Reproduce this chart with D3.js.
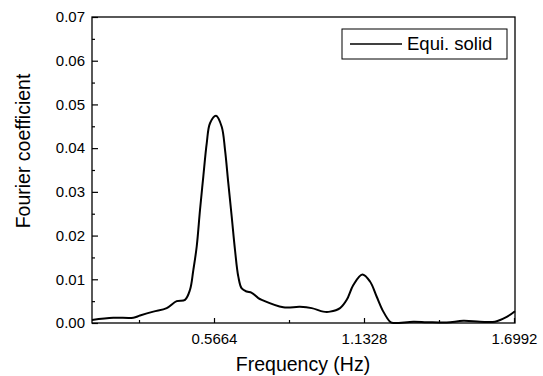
<!DOCTYPE html>
<html><head><meta charset="utf-8">
<script src="https://cdn.jsdelivr.net/npm/d3@7"></script>
<style>body{margin:0;background:#fff}svg{display:block}text{font-family:Arial,"Liberation Sans",sans-serif;fill:#000}</style>
</head><body>
<svg id="c" width="543" height="376"></svg>
<script>
const freq = [0.1057,0.1861,0.2617,0.2870,0.3372,0.3878,0.4256,0.4569,0.4758,0.4883,0.5011,0.5136,0.5260,0.5389,0.5513,0.5740,0.5955,0.6080,0.6204,0.6333,0.6457,0.6582,0.6711,0.6899,0.7088,0.7337,0.7466,0.8281,0.8912,0.9354,0.9792,1.0045,1.0423,1.0676,1.0925,1.1265,1.1555,1.1809,1.2058,1.2311,1.2435,1.3191,1.3697,1.4452,1.5079,1.5710,1.6276,1.6718,1.7030];
const coef = [0.0007,0.0012,0.0012,0.0017,0.0026,0.0034,0.0050,0.0053,0.0076,0.0121,0.0175,0.0259,0.0335,0.0411,0.0457,0.0474,0.0449,0.0396,0.0320,0.0243,0.0167,0.0106,0.0079,0.0072,0.0069,0.0057,0.0053,0.0036,0.0037,0.0034,0.0026,0.0026,0.0034,0.0053,0.0087,0.0111,0.0095,0.0060,0.0026,0.0003,0.0000,0.0003,0.0002,0.0001,0.0005,0.0003,0.0003,0.0014,0.0027];
const xMajor = [0.5664,1.1328,1.6992];
const xMinor = [0.2832,0.8496,1.4160];
const yMajor = [0,0.01,0.02,0.03,0.04,0.05,0.06,0.07];
const yMinor = [0.005,0.015,0.025,0.035,0.045,0.055,0.065];
const seriesName = "Equi. solid";

const svg = d3.select("#c");
const L=92,R=515,T=17,B=323;
const x = d3.scaleLinear().domain([0.1057,1.7030]).range([L,R]);
const y = d3.scaleLinear().domain([0,0.07]).range([B,T]);

// frame
svg.append("rect").attr("x",L).attr("y",T).attr("width",R-L).attr("height",B-T)
  .attr("fill","none").attr("stroke","#000").attr("stroke-width",1.3);

const FONT = "Arial,'Liberation Sans',sans-serif";
// x axis (ticks inward)
const gx = svg.append("g").attr("transform",`translate(0,${B})`);
gx.call(d3.axisBottom(x).tickValues(xMajor).tickSize(-5).tickPadding(10).tickFormat(d3.format(".4f")));
gx.append("g").call(d3.axisBottom(x).tickValues(xMinor).tickSize(-3).tickFormat(""));
gx.selectAll(".domain").remove();
gx.selectAll("text").attr("font-size",15).style("font-family",FONT);
gx.selectAll("line").attr("stroke","#000").attr("stroke-width",1.2);

// y axis (ticks inward)
const gy = svg.append("g").attr("transform",`translate(${L},0)`);
gy.call(d3.axisLeft(y).tickValues(yMajor).tickSize(-6).tickPadding(7).tickFormat(d3.format(".2f")));
gy.append("g").call(d3.axisLeft(y).tickValues(yMinor).tickSize(-3).tickFormat(""));
gy.selectAll(".domain").remove();
gy.selectAll("text").attr("font-size",15).style("font-family",FONT);
gy.selectAll("line").attr("stroke","#000").attr("stroke-width",1.2);

// line
const data = freq.map((f,i)=>({f,v:coef[i]}));
svg.append("path").datum(data)
  .attr("fill","none").attr("stroke","#000").attr("stroke-width",2)
  .attr("d", d3.line().x(d=>x(d.f)).y(d=>y(d.v)).curve(d3.curveCatmullRom.alpha(0.5)));

// axis titles
svg.append("text").attr("x",303).attr("y",371).attr("text-anchor","middle")
  .attr("font-size",19.5).text("Frequency (Hz)");
svg.append("text").attr("transform",`translate(30,151) rotate(-90)`).attr("text-anchor","middle")
  .attr("font-size",19.5).text("Fourier coefficient");

// legend
svg.append("rect").attr("x",342).attr("y",29).attr("width",165).attr("height",30)
  .attr("fill","#fff").attr("stroke","#000").attr("stroke-width",1);
svg.append("line").attr("x1",350).attr("x2",402).attr("y1",44).attr("y2",44)
  .attr("stroke","#000").attr("stroke-width",1.5);
svg.append("text").attr("x",407).attr("y",50).attr("font-size",18.5).text(seriesName);
</script>
</body></html>
